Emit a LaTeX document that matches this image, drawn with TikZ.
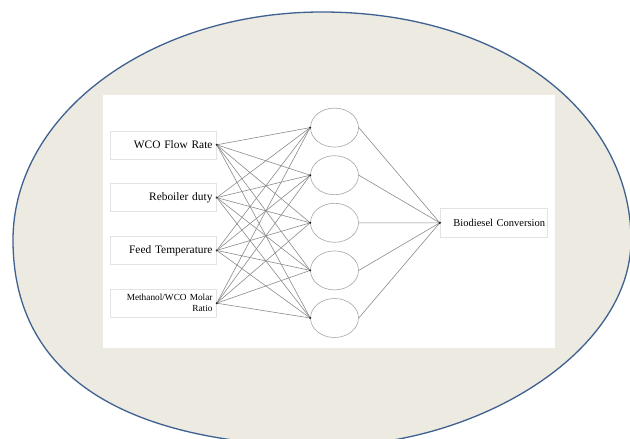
\documentclass[tikz,border=0pt]{standalone}
\usepackage{fontspec}
\setmainfont{Liberation Serif}
\usepackage{xcolor}
\usetikzlibrary{shapes, positioning}

\definecolor{shell}{HTML}{ECEAE1}
\definecolor{rim}{HTML}{3F6190}
\definecolor{wire}{HTML}{8C8C8C}

\begin{document}
\begin{tikzpicture}[
        x=1pt, y=-1pt,
        inbox/.style={rectangle, draw=gray!22, minimum width=106pt, minimum height=28pt,
            text width=98pt, inner xsep=4pt, align=right, font=\fontsize{11.4}{13}\selectfont},
        neuron/.style={ellipse, draw=gray!70, line width=0.6pt, fill=white,
            minimum width=48pt, minimum height=39pt, inner sep=0pt},
        outbox/.style={rectangle, draw=gray!22, minimum width=107pt, minimum height=29pt,
            text width=103pt, inner xsep=2pt, align=right, font=\fontsize{10.5}{12}\selectfont},
        wire/.style={draw=wire, line width=0.6pt},
        dot/.style={fill=black!85}
        ]

        % Frame
        \clip (0,0) rectangle (630,439);
        \fill[white] (0,0) rectangle (630,439);
        \filldraw[fill=shell, draw=rim, line width=1.3pt]
            (13,240) .. controls (13,114) and (151,12) .. (322,12)
            .. controls (505,12) and (631,114) .. (631,240)
            .. controls (631,352) and (478,446) .. (326,446)
            .. controls (182,446) and (13,408) .. cycle;
        \fill[white] (103,95) rectangle (555,348);

        % Input layer
        \node[inbox] (I1) at (163.5,144.8) {WCO Flow Rate};
        \node[inbox] (I2) at (163.5,197.6) {Reboiler duty};
        \node[inbox] (I3) at (163.5,250.4) {Feed Temperature};
        \node[inbox, font=\fontsize{9.3}{11}\selectfont] (I4) at (163.5,303.2)
            {Methanol/WCO Molar\\Ratio};

        % Hidden layer
        \foreach \i in {1,2,3,4,5}
            \node[neuron] (H\i) at (334.5,80+47.6*\i) {};

        % Output layer
        \node[outbox] (O) at (493.5,222.8) {Biodiesel Conversion};

        % Connections
        \foreach \i in {1,2,3,4}
            \foreach \j in {1,2,3,4,5}
                \draw[wire] (I\i.east) -- (H\j.west);

        \foreach \i in {1,2,3,4,5}
            \draw[wire] (H\i.east) -- (O.west);

        % Dots
        \foreach \i in {1,2,3,4}
            \fill[dot] (I\i.east) circle (1.1pt);
        \foreach \i in {1,2,3,4,5}
            \fill[dot] (H\i.west) circle (1.1pt);
        \fill[dot] (O.west) circle (1.3pt);

    \end{tikzpicture}
\end{document}
